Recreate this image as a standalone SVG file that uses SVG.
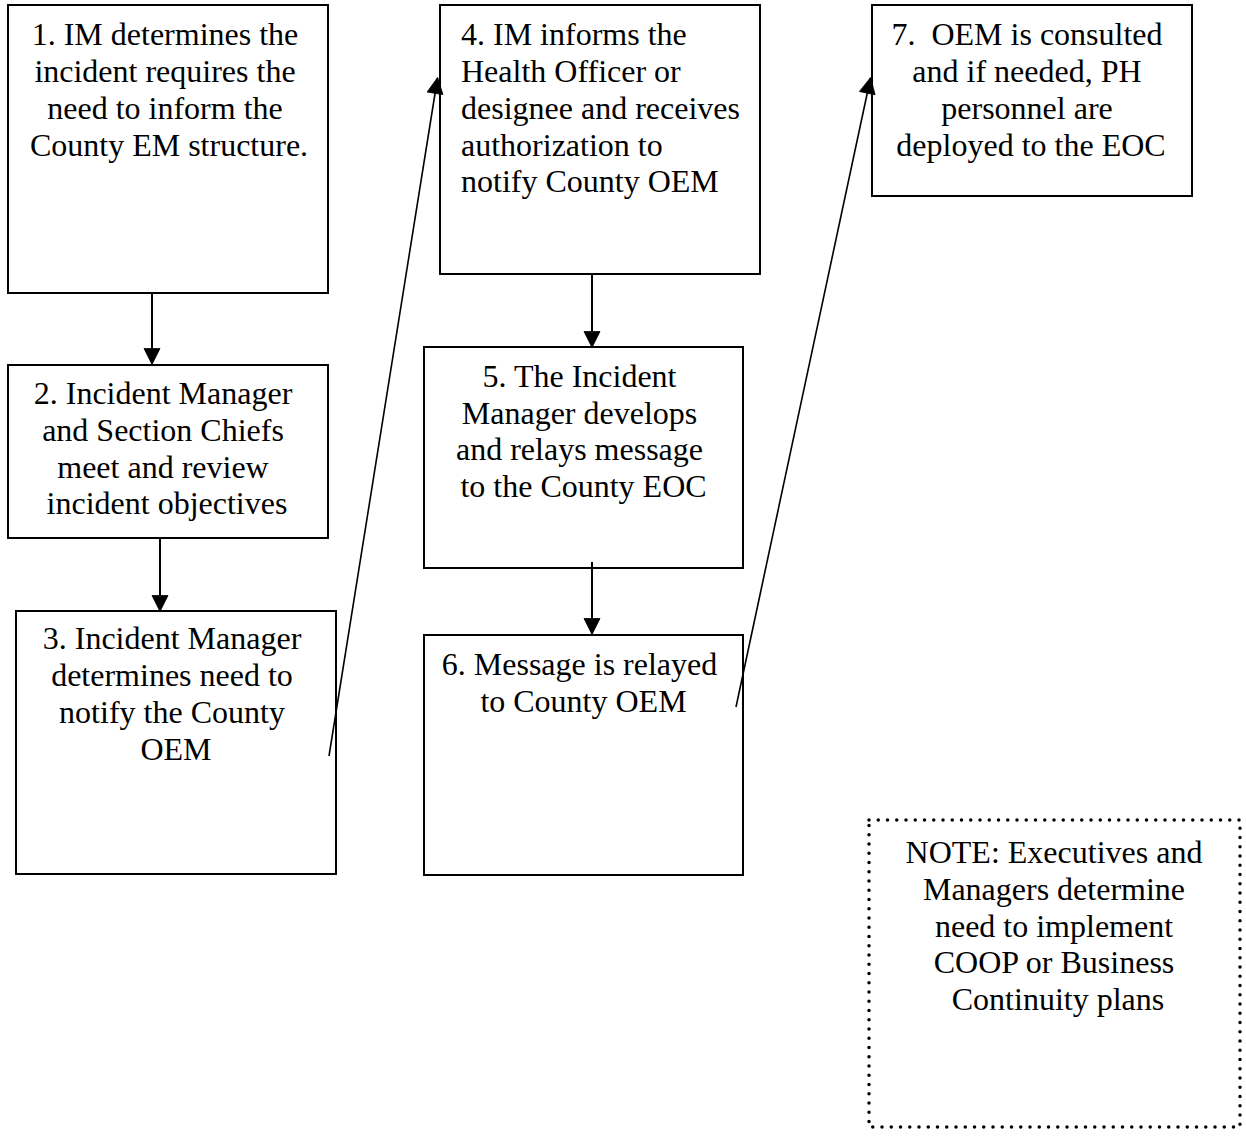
<svg xmlns="http://www.w3.org/2000/svg" width="1246" height="1136" viewBox="0 0 1246 1136">
  <style>
    .box { fill: #ffffff; stroke: #000000; stroke-width: 2; }
    .note { fill: #ffffff; stroke: #000000; stroke-width: 3.5; stroke-linecap: round; stroke-dasharray: 0 9.25; }
    .label { font-family: "Liberation Serif", "Times New Roman", serif; font-size: 32px; fill: #000000; }
    .mid { text-anchor: middle; }
    .edge { fill: none; stroke: #000000; stroke-width: 2; marker-end: url(#arrow); }
    .edge.slant { stroke-width: 1.6; }
  </style>
  <defs>
    <marker id="arrow" markerUnits="userSpaceOnUse" viewBox="-1 -1 18 18" markerWidth="18" markerHeight="18" refX="15.5" refY="8" orient="auto">
      <path d="M0,0 L16,8 L0,16 Z" fill="#000000" stroke="#000000" stroke-width="0.8" stroke-linejoin="miter"/>
    </marker>
  </defs>
  <rect width="1246" height="1136" fill="#ffffff"/>

  <g id="step1">
    <rect class="box" x="8" y="5" width="320" height="288"/>
    <text class="label mid">
      <tspan x="169" y="45">1. IM determines the</tspan>
      <tspan x="169" y="82">incident requires the</tspan>
      <tspan x="169" y="119">need to inform the</tspan>
      <tspan x="169" y="156">County EM structure.</tspan>
    </text>
  </g>

  <g id="step2">
    <rect class="box" x="8" y="365" width="320" height="173"/>
    <text class="label mid">
      <tspan x="167" y="404">2. Incident Manager</tspan>
      <tspan x="167" y="441">and Section Chiefs</tspan>
      <tspan x="167" y="478">meet and review</tspan>
      <tspan x="167" y="514">incident objectives</tspan>
    </text>
  </g>

  <g id="step3">
    <rect class="box" x="16" y="611" width="320" height="263"/>
    <text class="label mid">
      <tspan x="176" y="649">3. Incident Manager</tspan>
      <tspan x="176" y="686">determines need to</tspan>
      <tspan x="176" y="723">notify the County</tspan>
      <tspan x="176" y="760">OEM</tspan>
    </text>
  </g>

  <g id="step4">
    <rect class="box" x="440" y="5" width="320" height="269"/>
    <text class="label">
      <tspan x="461" y="45">4. IM informs the</tspan>
      <tspan x="461" y="82">Health Officer or</tspan>
      <tspan x="461" y="119">designee and receives</tspan>
      <tspan x="461" y="156">authorization to</tspan>
      <tspan x="461" y="192">notify County OEM</tspan>
    </text>
  </g>

  <g id="step5">
    <rect class="box" x="424" y="347" width="319" height="221"/>
    <text class="label mid">
      <tspan x="583.5" y="387">5. The Incident</tspan>
      <tspan x="583.5" y="424">Manager develops</tspan>
      <tspan x="583.5" y="460">and relays message</tspan>
      <tspan x="583.5" y="497">to the County EOC</tspan>
    </text>
  </g>

  <g id="step6">
    <rect class="box" x="424" y="635" width="319" height="240"/>
    <text class="label mid">
      <tspan x="583.5" y="675">6. Message is relayed</tspan>
      <tspan x="583.5" y="712">to County OEM</tspan>
    </text>
  </g>

  <g id="step7">
    <rect class="box" x="872" y="5" width="320" height="191"/>
    <text class="label mid">
      <tspan x="1031" y="45">7.&#160; OEM is consulted</tspan>
      <tspan x="1031" y="82">and if needed, PH</tspan>
      <tspan x="1031" y="119">personnel are</tspan>
      <tspan x="1031" y="156">deployed to the EOC</tspan>
    </text>
  </g>

  <g id="note">
    <rect class="note" x="869" y="820" width="371" height="307"/>
    <text class="label mid">
      <tspan x="1058" y="863">NOTE: Executives and</tspan>
      <tspan x="1058" y="900">Managers determine</tspan>
      <tspan x="1058" y="937">need to implement</tspan>
      <tspan x="1058" y="973">COOP or Business</tspan>
      <tspan x="1058" y="1010">Continuity plans</tspan>
    </text>
  </g>

  <!-- connectors, drawn over the boxes where they start inside them -->
  <g id="connectors">
    <line class="edge" x1="152" y1="293" x2="152" y2="364"/>
    <line class="edge" x1="160" y1="538" x2="160" y2="611"/>
    <line class="edge slant" x1="329" y1="756" x2="437.5" y2="78"/>
    <line class="edge" x1="592" y1="274" x2="592" y2="347"/>
    <line class="edge" x1="592" y1="562" x2="592" y2="634"/>
    <line class="edge slant" x1="736" y1="707" x2="870.5" y2="78"/>
  </g>
</svg>
